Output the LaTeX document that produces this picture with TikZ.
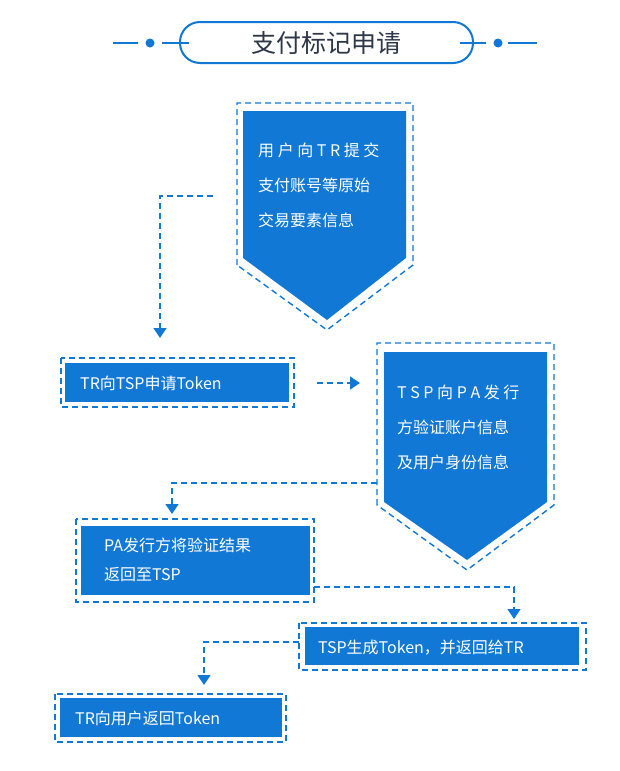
\documentclass[tikz,border=0pt]{standalone}
\usepackage{fontspec}
\setmainfont{Noto Sans CJK SC}
\usetikzlibrary{positioning,arrows.meta}
\definecolor{payblue}{RGB}{18,120,214}
\definecolor{titlegray}{RGB}{45,55,70}
\tikzset{
  fillbox/.style={fill=payblue,text=white,inner sep=0pt,anchor=north west},
  dashframe/.style={draw=payblue,line width=1.4pt,dash pattern=on 6pt off 4pt},
  flow/.style={draw=payblue,line width=1.4pt,dash pattern=on 6pt off 4pt,-{Triangle[width=13pt,length=10pt]}},
  boxtext/.style={text=white,font=\fontsize{16}{18}\selectfont,anchor=west,inner sep=0pt}
}
\begin{document}
\begin{tikzpicture}[x=1pt,y=-1pt]
        \useasboundingbox (0,0) rectangle (619,771);
        % title
        \draw[payblue,line width=2pt,rounded corners=20pt] (180,22) rectangle (473,63);
        \node (title) at (326,43) [text=titlegray,font=\fontsize{25}{28}\selectfont] {支付标记申请};
        \draw[payblue,line width=2pt] (113,43) -- (138,43) (162,43) -- (189,43);
        \draw[payblue,line width=2pt] (460,43) -- (486,43) (508,43) -- (537,43);
        \fill[payblue] (150,43) circle (4.5) (498,43) circle (4.5);

        % box 1
        \draw[dashframe] (237,265) -- (237,103) -- (413,103) -- (413,265) -- (327,330) -- cycle;
        \fill[payblue] (243,258) -- (243,111) -- (406,111) -- (406,258) -- (327,320) -- cycle;
        \node (b1) [boxtext] at (258,150) {用 户 向 T R 提 交};
        \node [boxtext] at (258,185) {支付账号等原始};
        \node [boxtext] at (258,220) {交易要素信息};
        \coordinate (b1out) at (213,196);

        % box 2
        \node (b2) [fillbox,minimum width=224pt,minimum height=39pt] at (65,363) {};
        \draw[dashframe] (61,358) rectangle (294,407);
        \node [boxtext] at (80,383) {TR向TSP申请Token};

        % box 3
        \draw[dashframe] (377,505) -- (377,343) -- (554,343) -- (554,505) -- (467,570) -- cycle;
        \fill[payblue] (384,502) -- (384,352) -- (547,352) -- (547,502) -- (467,560) -- cycle;
        \node (b3) [boxtext] at (397,392) {T S P 向 P A 发 行};
        \node [boxtext] at (397,427) {方验证账户信息};
        \node [boxtext] at (397,462) {及用户身份信息};
        \coordinate (b3in) at (360,383);
        \coordinate (b3out) at (377,483);

        % box 4
        \node (b4) [fillbox,minimum width=229pt,minimum height=69pt] at (81,526) {};
        \draw[dashframe] (76,519) rectangle (314,602);
        \node [boxtext] at (104,545) {PA发行方将验证结果};
        \node [boxtext] at (104,575) {返回至TSP};

        % box 5
        \node (b5) [fillbox,minimum width=274pt,minimum height=38pt] at (305,627) {};
        \draw[dashframe] (299,623) rectangle (586,670);
        \node [boxtext] at (318,648) {TSP生成Token，并返回给TR};

        % box 6
        \node (b6) [fillbox,minimum width=222pt,minimum height=39pt] at (60,698) {};
        \draw[dashframe] (55,694) rectangle (286,742);
        \node [boxtext] at (75,718) {TR向用户返回Token};

        % connectors
        \draw[flow] (b1out) -| (160,338);
        \draw[flow] (b2.east |- 0,383) ++(28,0) -- (b3in);
        \draw[flow] (b3out) -| (172,514);
        \draw[flow] (314,587) -| (514,619);
        \draw[flow] (299,642) -| (204,685);
\end{tikzpicture}
\end{document}
